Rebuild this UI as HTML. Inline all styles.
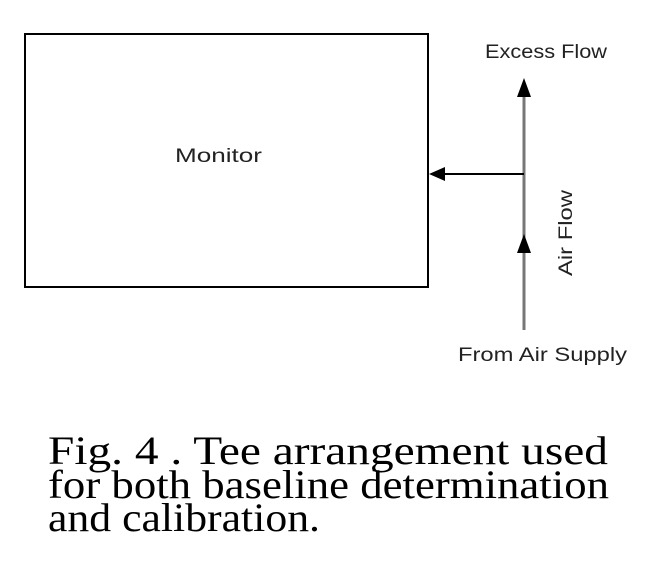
<!DOCTYPE html>
<html><head><meta charset="utf-8"><style>
html,body{margin:0;padding:0;background:#fff;width:646px;height:578px;overflow:hidden}
svg{display:block}
.s{font-family:"Liberation Sans",sans-serif;font-size:19px;fill:#222}
.c{font-family:"Liberation Serif",serif;font-size:40px;fill:#000}
</style></head><body>
<svg width="646" height="578" viewBox="0 0 646 578">
<rect x="25" y="34" width="403" height="253" fill="none" stroke="#000" stroke-width="2"/>
<text class="s" x="175" y="162" textLength="87" lengthAdjust="spacingAndGlyphs">Monitor</text>
<line x1="524" y1="90" x2="524" y2="330" stroke="#777" stroke-width="3"/>
<polygon points="524,78 517,97 531,97" fill="#000"/>
<polygon points="524,234 517,253 531,253" fill="#000"/>
<line x1="524" y1="174" x2="440" y2="174" stroke="#000" stroke-width="2"/>
<polygon points="429,174 445,167 445,181" fill="#000"/>
<text class="s" x="485" y="58" textLength="122" lengthAdjust="spacingAndGlyphs">Excess Flow</text>
<text class="s" x="458" y="361" textLength="169" lengthAdjust="spacingAndGlyphs">From Air Supply</text>
<text class="s" transform="translate(572,276) rotate(-90)" x="0" y="0" textLength="86" lengthAdjust="spacingAndGlyphs">Air Flow</text>
<text class="c" x="48" y="464" textLength="560" lengthAdjust="spacingAndGlyphs">Fig. 4 .  Tee arrangement used</text>
<text class="c" x="48" y="498" textLength="561" lengthAdjust="spacingAndGlyphs">for both baseline determination</text>
<text class="c" x="48" y="531" textLength="272" lengthAdjust="spacingAndGlyphs">and calibration.</text>
</svg>
</body></html>
